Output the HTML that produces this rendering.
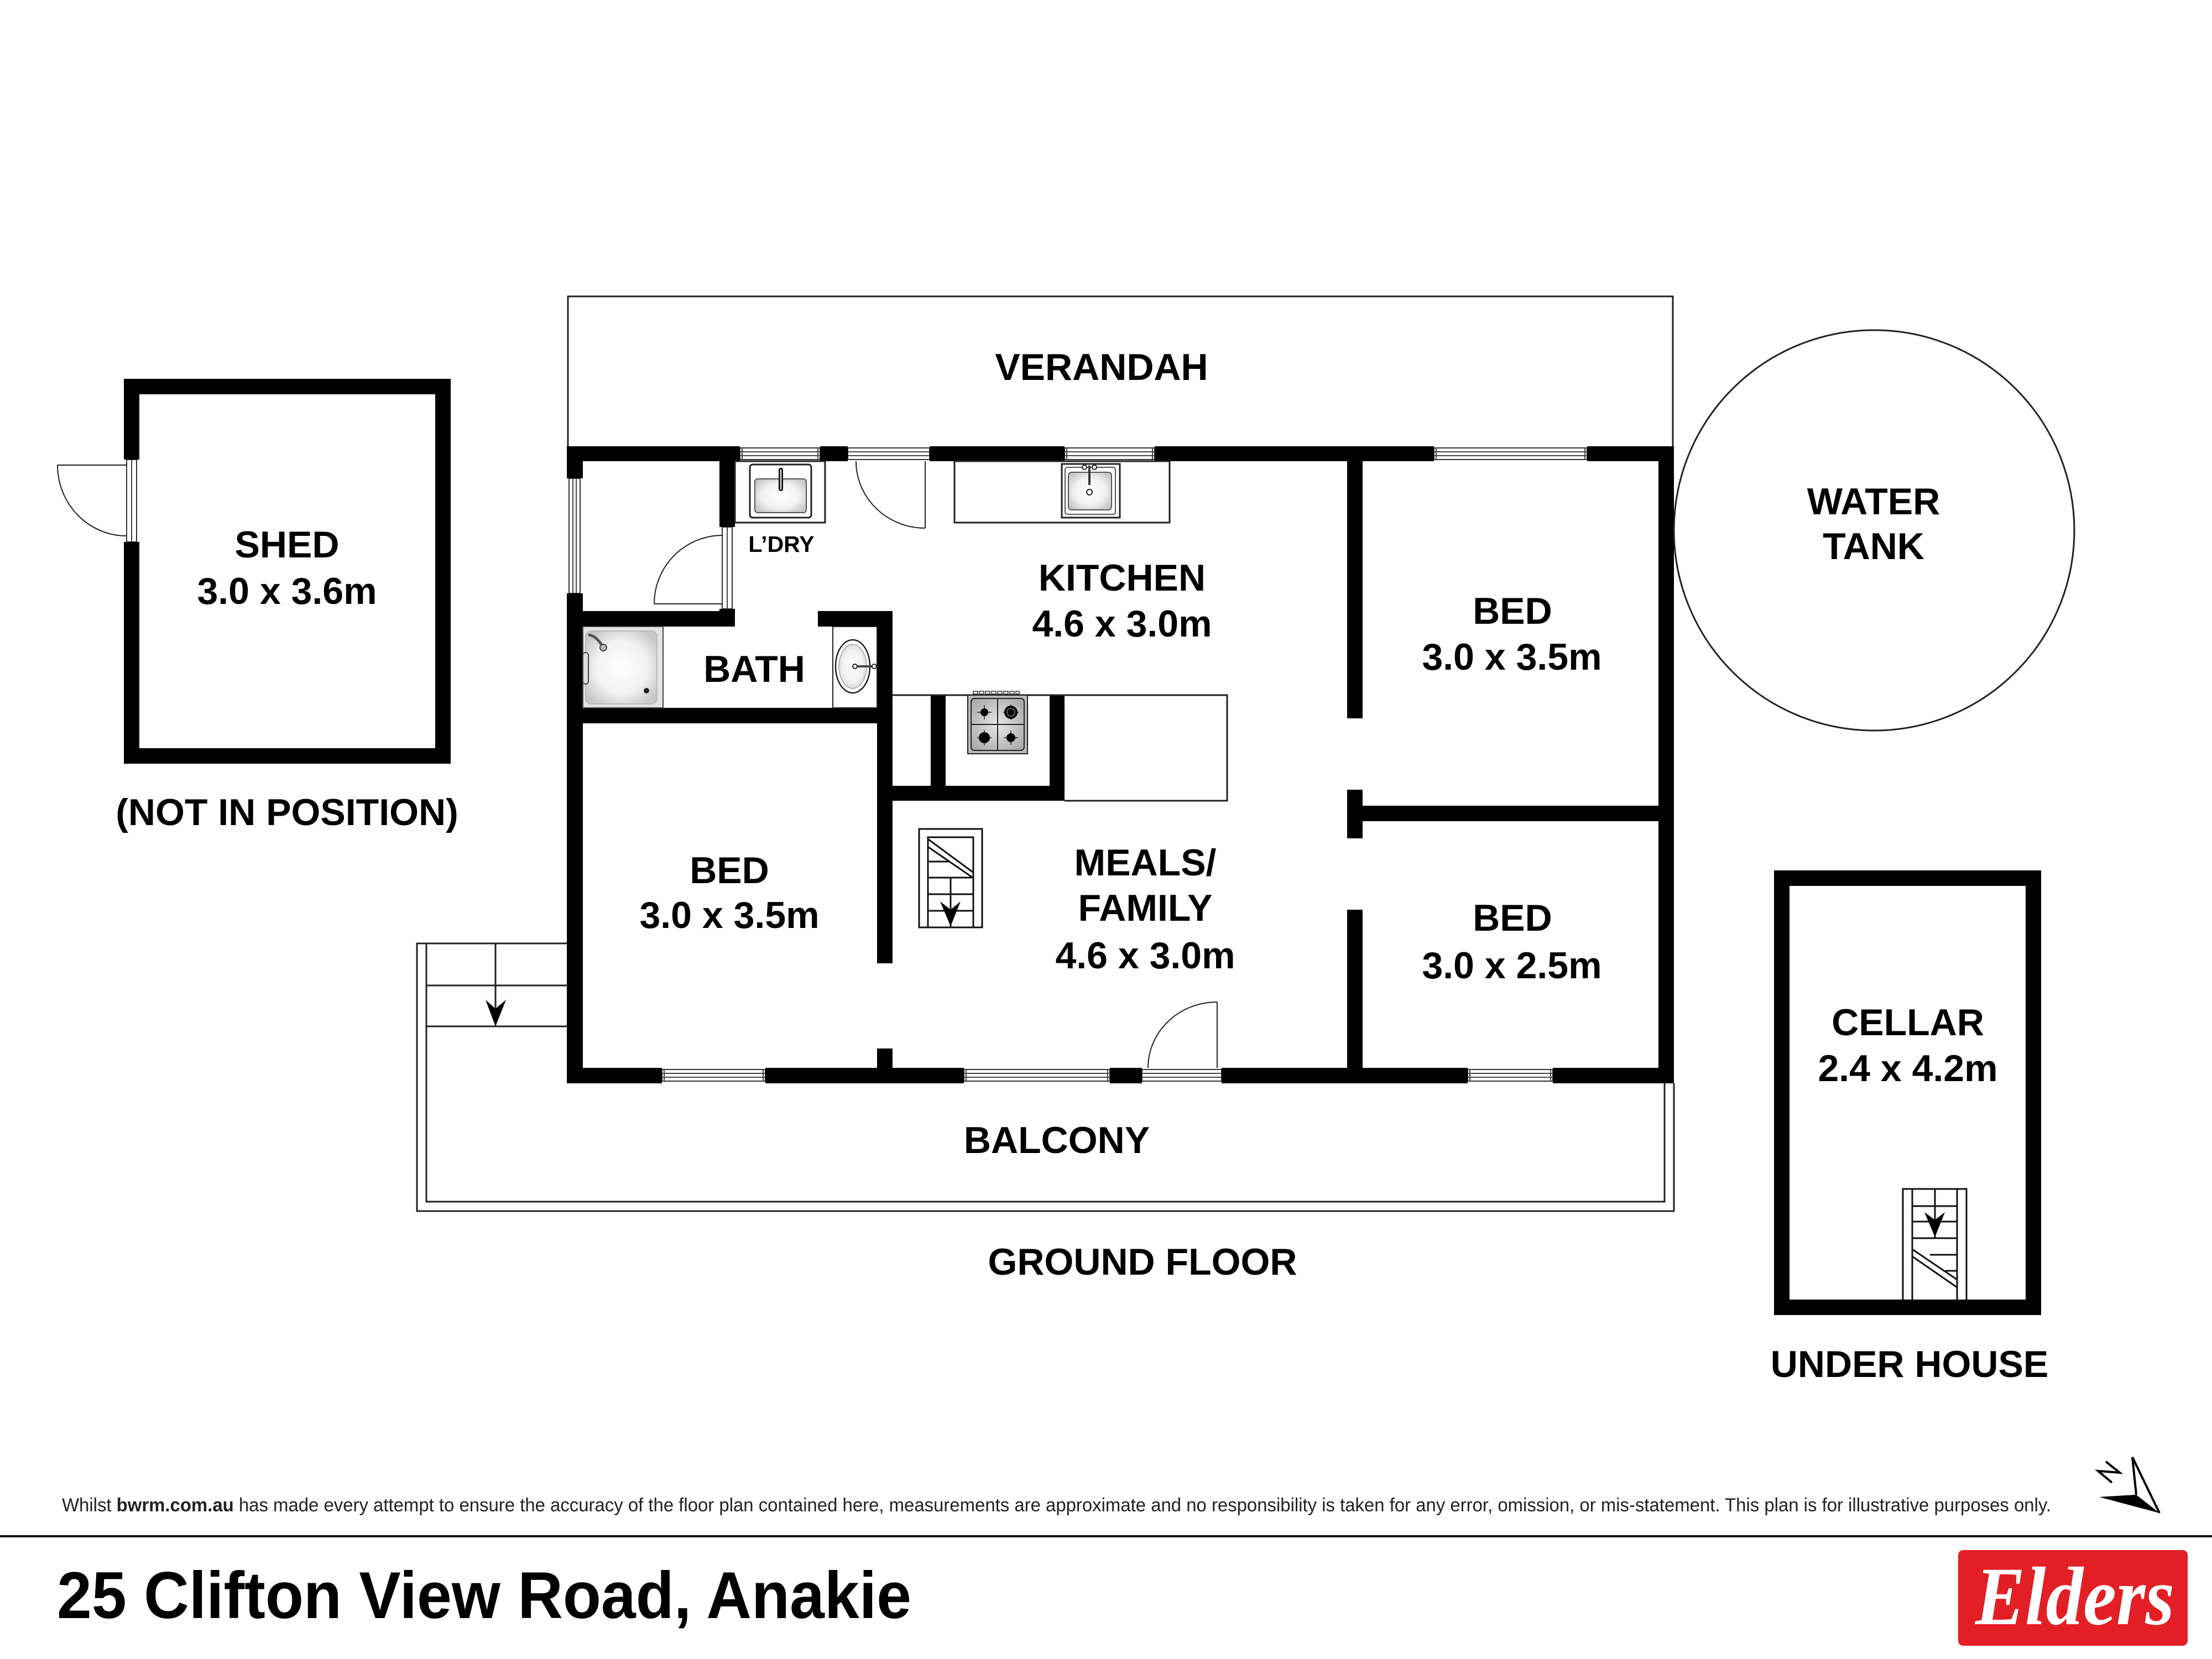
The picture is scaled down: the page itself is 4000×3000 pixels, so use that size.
<!DOCTYPE html>
<html>
<head>
<meta charset="utf-8">
<style>
  html,body{margin:0;padding:0;background:#fff;}
  body{width:4000px;height:3000px;overflow:hidden;}
  svg{display:block;}
  .lbl{font-family:"Liberation Sans",Arial,sans-serif;font-weight:bold;fill:#000;text-anchor:middle;}
</style>
</head>
<body>
<svg width="4000" height="3000" viewBox="0 0 4000 3000" xmlns="http://www.w3.org/2000/svg">
  <defs>
    <radialGradient id="basin" cx="50%" cy="50%" r="60%">
      <stop offset="0" stop-color="#ffffff"/>
      <stop offset="0.6" stop-color="#f2f2f2"/>
      <stop offset="1" stop-color="#c8c8c8"/>
    </radialGradient>
    <radialGradient id="cook" cx="50%" cy="50%" r="65%">
      <stop offset="0" stop-color="#e8e8e8"/>
      <stop offset="1" stop-color="#a8a8a8"/>
    </radialGradient>
  </defs>
  <rect x="0" y="0" width="4000" height="3000" fill="#fff"/>

  <!-- ================= VERANDAH outline ================= -->
  <g fill="none" stroke="#222" stroke-width="3">
    <polyline points="1027,807 1027,536 3025,536 3025,807"/>
  </g>

  <!-- ================= BALCONY ================= -->
  <g fill="none" stroke="#222" stroke-width="3">
    <polyline points="1025,1706 754,1706 754,2190 3027,2190 3027,1959"/>
    <polyline points="771,1706 771,2173 3010,2173 3010,1959"/>
    <line x1="771" y1="1782" x2="1025" y2="1782"/>
    <line x1="771" y1="1856" x2="1025" y2="1856"/>
    <line x1="896" y1="1706" x2="896" y2="1846"/>
  </g>
  <polygon points="896,1856 878,1808 896,1824 915,1808" fill="#000"/>

  <!-- ================= WINDOWS / THRESHOLDS ================= -->
  <g fill="#fff" stroke="#333" stroke-width="2">
    <!-- top wall -->
    <rect x="1338" y="810" width="145" height="21"/>
    <rect x="1533" y="810" width="148" height="21"/>
    <rect x="1925" y="810" width="163" height="21"/>
    <rect x="2593" y="810" width="277" height="21"/>
    <!-- bottom wall -->
    <rect x="1197" y="1934" width="187" height="21"/>
    <rect x="1743" y="1934" width="264" height="21"/>
    <rect x="2065" y="1934" width="144" height="21"/>
    <rect x="2654" y="1934" width="154" height="21"/>
    <!-- left wall window -->
    <rect x="1029" y="865" width="20" height="208"/>
    <!-- laundry door jamb -->
    <rect x="1306" y="953" width="18" height="148"/>
    <!-- shed door jamb -->
    <rect x="229" y="831" width="18" height="149"/>
  </g>
  <g stroke="#444" stroke-width="2">
    <line x1="1338" y1="817" x2="1483" y2="817"/><line x1="1338" y1="824" x2="1483" y2="824"/>
    <line x1="1533" y1="817" x2="1681" y2="817"/><line x1="1533" y1="824" x2="1681" y2="824"/>
    <line x1="1925" y1="817" x2="2088" y2="817"/><line x1="1925" y1="824" x2="2088" y2="824"/>
    <line x1="2593" y1="817" x2="2870" y2="817"/><line x1="2593" y1="824" x2="2870" y2="824"/>
    <line x1="1197" y1="1941" x2="1384" y2="1941"/><line x1="1197" y1="1948" x2="1384" y2="1948"/>
    <line x1="1743" y1="1941" x2="2007" y2="1941"/><line x1="1743" y1="1948" x2="2007" y2="1948"/>
    <line x1="2065" y1="1941" x2="2209" y2="1941"/><line x1="2065" y1="1948" x2="2209" y2="1948"/>
    <line x1="2654" y1="1941" x2="2808" y2="1941"/><line x1="2654" y1="1948" x2="2808" y2="1948"/>
    <line x1="1036" y1="865" x2="1036" y2="1073"/><line x1="1042" y1="865" x2="1042" y2="1073"/>
    <line x1="1315" y1="953" x2="1315" y2="1101"/>
    <line x1="238" y1="831" x2="238" y2="980"/>
    <!-- end posts -->
    <line x1="1342" y1="810" x2="1342" y2="831"/><line x1="1479" y1="810" x2="1479" y2="831"/>
    <line x1="1929" y1="810" x2="1929" y2="831"/><line x1="2084" y1="810" x2="2084" y2="831"/>
    <line x1="2597" y1="810" x2="2597" y2="831"/><line x1="2866" y1="810" x2="2866" y2="831"/>
    <line x1="1201" y1="1934" x2="1201" y2="1955"/><line x1="1380" y1="1934" x2="1380" y2="1955"/>
    <line x1="1747" y1="1934" x2="1747" y2="1955"/><line x1="2003" y1="1934" x2="2003" y2="1955"/>
    <line x1="2658" y1="1934" x2="2658" y2="1955"/><line x1="2804" y1="1934" x2="2804" y2="1955"/>
  </g>

  <!-- ================= WALLS ================= -->
  <g fill="#000">
    <!-- shed -->
    <rect x="224" y="685" width="591" height="28"/>
    <rect x="224" y="1353" width="591" height="28"/>
    <rect x="787" y="685" width="28" height="696"/>
    <rect x="224" y="685" width="28" height="146"/>
    <rect x="224" y="980" width="28" height="401"/>
    <!-- cellar -->
    <rect x="3208" y="1574" width="483" height="28"/>
    <rect x="3208" y="2350" width="483" height="28"/>
    <rect x="3208" y="1574" width="28" height="804"/>
    <rect x="3663" y="1574" width="28" height="804"/>
    <!-- house top wall -->
    <rect x="1025" y="807" width="313" height="27"/>
    <rect x="1483" y="807" width="50" height="27"/>
    <rect x="1681" y="807" width="244" height="27"/>
    <rect x="2088" y="807" width="505" height="27"/>
    <rect x="2870" y="807" width="157" height="27"/>
    <!-- left wall -->
    <rect x="1025" y="807" width="29" height="58"/>
    <rect x="1025" y="1073" width="29" height="886"/>
    <!-- right wall -->
    <rect x="2999" y="807" width="28" height="1152"/>
    <!-- bottom wall -->
    <rect x="1025" y="1931" width="172" height="28"/>
    <rect x="1384" y="1931" width="359" height="28"/>
    <rect x="2007" y="1931" width="58" height="28"/>
    <rect x="2209" y="1931" width="445" height="28"/>
    <rect x="2808" y="1931" width="219" height="28"/>
    <!-- laundry wall -->
    <rect x="1301" y="807" width="28" height="146"/>
    <rect x="1301" y="1101" width="28" height="32"/>
    <!-- bath walls -->
    <rect x="1025" y="1105" width="304" height="28"/>
    <rect x="1479" y="1105" width="135" height="28"/>
    <rect x="1586" y="1105" width="28" height="637"/>
    <rect x="1025" y="1280" width="589" height="28"/>
    <rect x="1586" y="1896" width="28" height="35"/>
    <!-- kitchen island walls -->
    <rect x="1683" y="1257" width="27" height="191"/>
    <rect x="1898" y="1257" width="27" height="191"/>
    <rect x="1614" y="1421" width="311" height="27"/>
    <!-- bedroom partitions -->
    <rect x="2436" y="807" width="28" height="492"/>
    <rect x="2436" y="1428" width="28" height="88"/>
    <rect x="2436" y="1645" width="28" height="286"/>
    <rect x="2464" y="1457" width="535" height="28"/>
  </g>

  <!-- ================= DOORS ================= -->
  <g fill="none" stroke="#222" stroke-width="2">
    <!-- kitchen/verandah door -->
    <line x1="1673" y1="834" x2="1673" y2="955"/>
    <path d="M1548,834 A125,121 0 0 0 1673,955"/>
    <!-- laundry door -->
    <line x1="1183" y1="1092" x2="1307" y2="1092"/>
    <path d="M1183,1092 A124,124 0 0 1 1307,968"/>
    <!-- meals balcony door -->
    <line x1="2201" y1="1812" x2="2201" y2="1931"/>
    <path d="M2201,1812 A125,119 0 0 0 2076,1931"/>
    <!-- shed door -->
    <line x1="104" y1="841" x2="229" y2="841"/>
    <path d="M104,841 A125,128 0 0 0 229,969"/>
  </g>

  <!-- ================= FIXTURES ================= -->
  <!-- laundry cabinet & tub -->
  <rect x="1329" y="834" width="163" height="111" fill="#fff" stroke="#222" stroke-width="3"/>
  <rect x="1356" y="840" width="111" height="96" rx="5" fill="#fff" stroke="#222" stroke-width="3"/>
  <rect x="1365" y="866" width="93" height="61" rx="5" fill="url(#basin)" stroke="#555" stroke-width="2"/>
  <line x1="1412" y1="850" x2="1412" y2="884" stroke="#000" stroke-width="8" stroke-linecap="round"/>
  <line x1="1412" y1="850" x2="1412" y2="884" stroke="#ccc" stroke-width="3" stroke-linecap="round"/>

  <!-- kitchen bench & sink -->
  <rect x="1726" y="834" width="389" height="111" fill="#fff" stroke="#222" stroke-width="3"/>
  <rect x="1920" y="839" width="105" height="97" fill="#fff" stroke="#222" stroke-width="3"/>
  <rect x="1926" y="845" width="91" height="85" rx="4" fill="#fff" stroke="#555" stroke-width="2"/>
  <rect x="1932" y="854" width="78" height="68" rx="6" fill="url(#basin)" stroke="#555" stroke-width="2"/>
  <circle cx="1961" cy="845" r="4" fill="#fff" stroke="#222" stroke-width="2"/>
  <circle cx="1979" cy="845" r="4" fill="#fff" stroke="#222" stroke-width="2"/>
  <line x1="1970" y1="842" x2="1970" y2="877" stroke="#333" stroke-width="4"/>
  <circle cx="1970" cy="890" r="5" fill="#fff" stroke="#222" stroke-width="2"/>

  <!-- peninsula bench -->
  <path d="M1614,1257 H2219 V1448 H1925" fill="none" stroke="#222" stroke-width="3"/>

  <!-- cooktop -->
  <g>
    <g fill="#fff" stroke="#333" stroke-width="1.5">
      <rect x="1760" y="1250" width="8" height="5"/><rect x="1771" y="1250" width="8" height="5"/>
      <rect x="1782" y="1250" width="8" height="5"/><rect x="1793" y="1250" width="8" height="5"/>
      <rect x="1804" y="1250" width="8" height="5"/><rect x="1815" y="1250" width="8" height="5"/>
      <rect x="1826" y="1250" width="8" height="5"/><rect x="1837" y="1250" width="6" height="5"/>
    </g>
    <rect x="1750" y="1257" width="108" height="106" fill="#bbb" stroke="#222" stroke-width="2"/>
    <rect x="1756" y="1263" width="96" height="94" rx="6" fill="url(#cook)" stroke="#222" stroke-width="2"/>
    <line x1="1804" y1="1263" x2="1804" y2="1357" stroke="#222" stroke-width="2"/>
    <line x1="1756" y1="1310" x2="1852" y2="1310" stroke="#222" stroke-width="2"/>
    <line x1="1767" y1="1288" x2="1793" y2="1288" stroke="#222" stroke-width="1.5"/>
    <line x1="1780" y1="1275" x2="1780" y2="1301" stroke="#222" stroke-width="1.5"/>
    <line x1="1767" y1="1334" x2="1793" y2="1334" stroke="#222" stroke-width="1.5"/>
    <line x1="1780" y1="1320" x2="1780" y2="1348" stroke="#222" stroke-width="1.5"/>
    <line x1="1814" y1="1288" x2="1842" y2="1288" stroke="#222" stroke-width="1.5"/>
    <line x1="1828" y1="1274" x2="1828" y2="1302" stroke="#222" stroke-width="1.5"/>
    <line x1="1815" y1="1334" x2="1841" y2="1334" stroke="#222" stroke-width="1.5"/>
    <line x1="1828" y1="1321" x2="1828" y2="1347" stroke="#222" stroke-width="1.5"/>
    <circle cx="1780" cy="1288" r="7" fill="#000"/>
    <circle cx="1828" cy="1288" r="12" fill="#000"/>
    <circle cx="1828" cy="1288" r="8" fill="#666"/>
    <circle cx="1828" cy="1288" r="6" fill="#000"/>
    <circle cx="1780" cy="1334" r="10" fill="#000"/>
    <circle cx="1828" cy="1334" r="8" fill="#000"/>
  </g>

  <!-- shower -->
  <rect x="1054" y="1133" width="145" height="147" fill="#e4e4e4" stroke="#444" stroke-width="2"/>
  <rect x="1059" y="1141" width="129" height="132" rx="10" fill="url(#basin)" stroke="#bbb" stroke-width="2"/>
  <circle cx="1169" cy="1249" r="5" fill="#222"/>
  <path d="M1066,1148 Q1080,1152 1089,1168" fill="none" stroke="#555" stroke-width="5" stroke-linecap="round"/>
  <circle cx="1091" cy="1171" r="6" fill="#bbb" stroke="#444" stroke-width="2"/>
  <rect x="1054" y="1180" width="10" height="57" rx="5" fill="#ddd" stroke="#444" stroke-width="2"/>

  <!-- vanity -->
  <rect x="1506" y="1133" width="80" height="147" fill="#fff" stroke="#222" stroke-width="2"/>
  <ellipse cx="1542" cy="1205" rx="31" ry="48" fill="#fff" stroke="#222" stroke-width="2.5"/>
  <ellipse cx="1542" cy="1205" rx="25" ry="40" fill="url(#basin)" stroke="#aaa" stroke-width="1.5"/>
  <line x1="1546" y1="1205" x2="1580" y2="1205" stroke="#444" stroke-width="4"/>
  <circle cx="1546" cy="1205" r="4" fill="#fff" stroke="#222" stroke-width="2"/>
  <circle cx="1581" cy="1205" r="4" fill="#fff" stroke="#222" stroke-width="2"/>

  <!-- interior stairs (meals) -->
  <g fill="none" stroke="#111" stroke-width="3">
    <rect x="1662" y="1499" width="114" height="178"/>
    <polyline points="1678,1677 1678,1514 1760,1514 1760,1677"/>
    <line x1="1679" y1="1518" x2="1759" y2="1577"/>
    <line x1="1679" y1="1532" x2="1759" y2="1587"/>
    <line x1="1678" y1="1558" x2="1716" y2="1558"/>
    <line x1="1678" y1="1587" x2="1760" y2="1587"/>
    <line x1="1678" y1="1617" x2="1760" y2="1617"/>
    <line x1="1678" y1="1647" x2="1760" y2="1647"/>
    <line x1="1719" y1="1587" x2="1719" y2="1677"/>
  </g>
  <polygon points="1719,1675 1700,1630 1719,1645 1737,1630" fill="#000"/>

  <!-- cellar stairs -->
  <g fill="none" stroke="#111" stroke-width="3">
    <polyline points="3441,2350 3441,2150 3556,2150 3556,2350"/>
    <line x1="3458" y1="2150" x2="3458" y2="2350"/>
    <line x1="3539" y1="2150" x2="3539" y2="2350"/>
    <line x1="3499" y1="2150" x2="3499" y2="2239"/>
    <line x1="3458" y1="2181" x2="3539" y2="2181"/>
    <line x1="3458" y1="2209" x2="3539" y2="2209"/>
    <line x1="3458" y1="2239" x2="3539" y2="2239"/>
    <line x1="3490" y1="2269" x2="3539" y2="2269"/>
    <line x1="3518" y1="2298" x2="3539" y2="2298"/>
    <line x1="3458" y1="2259" x2="3539" y2="2314"/>
    <line x1="3458" y1="2272" x2="3539" y2="2328"/>
  </g>
  <polygon points="3499,2237 3480,2192 3499,2206 3517,2192" fill="#000"/>

  <!-- water tank -->
  <circle cx="3389" cy="959" r="362" fill="none" stroke="#222" stroke-width="3"/>

  <!-- ================= LABELS ================= -->
  <g class="lbl" font-size="68">
    <text x="1992" y="687">VERANDAH</text>
    <text x="519" y="1008">SHED</text>
    <text x="519" y="1092">3.0 x 3.6m</text>
    <text x="519" y="1492">(NOT IN POSITION)</text>
    <text x="3388" y="930">WATER</text>
    <text x="3388" y="1011">TANK</text>
    <text x="2029" y="1068">KITCHEN</text>
    <text x="2029" y="1151">4.6 x 3.0m</text>
    <text x="1364" y="1233">BATH</text>
    <text x="1319" y="1597">BED</text>
    <text x="1319" y="1678">3.0 x 3.5m</text>
    <text x="2071" y="1583">MEALS/</text>
    <text x="2071" y="1665">FAMILY</text>
    <text x="2071" y="1751">4.6 x 3.0m</text>
    <text x="2735" y="1128">BED</text>
    <text x="2734" y="1211">3.0 x 3.5m</text>
    <text x="2735" y="1683">BED</text>
    <text x="2734" y="1769">3.0 x 2.5m</text>
    <text x="3450" y="1872">CELLAR</text>
    <text x="3450" y="1955">2.4 x 4.2m</text>
    <text x="3453" y="2490">UNDER HOUSE</text>
    <text x="1911" y="2085">BALCONY</text>
    <text x="2066" y="2305">GROUND FLOOR</text>
  </g>
  <text class="lbl" x="1413" y="998" font-size="41">L’DRY</text>

  <!-- ================= FOOTER ================= -->
  <text x="112" y="2733" font-family="'Liberation Sans',Arial,sans-serif" font-size="34" fill="#222" textLength="3597" lengthAdjust="spacingAndGlyphs">Whilst <tspan font-weight="bold">bwrm.com.au</tspan> has made every attempt to ensure the accuracy of the floor plan contained here, measurements are approximate and no responsibility is taken for any error, omission, or mis-statement. This plan is for illustrative purposes only.</text>

  <!-- compass -->
  <g stroke="#000" stroke-width="4" fill="none" stroke-linejoin="miter">
    <line x1="3856" y1="2635" x2="3905" y2="2736"/>
    <line x1="3856" y1="2635" x2="3863" y2="2703"/>
    <polyline points="3808,2643 3833,2663 3794,2660 3819,2681"/>
  </g>
  <polygon points="3796,2707 3863,2703 3905,2736" fill="#000"/>

  <rect x="0" y="2776" width="4000" height="4" fill="#111"/>

  <text x="103" y="2926" font-family="'Liberation Sans',Arial,sans-serif" font-weight="bold" font-size="120" fill="#000" textLength="1545" lengthAdjust="spacingAndGlyphs">25 Clifton View Road, Anakie</text>

  <!-- Elders logo -->
  <rect x="3541" y="2803" width="415" height="173" rx="9" fill="#e31f26"/>
  <text x="3572" y="2937" font-family="'Liberation Serif',serif" font-weight="bold" font-style="italic" font-size="150" fill="#fff" textLength="360" lengthAdjust="spacingAndGlyphs">Elders</text>
</svg>
</body>
</html>
